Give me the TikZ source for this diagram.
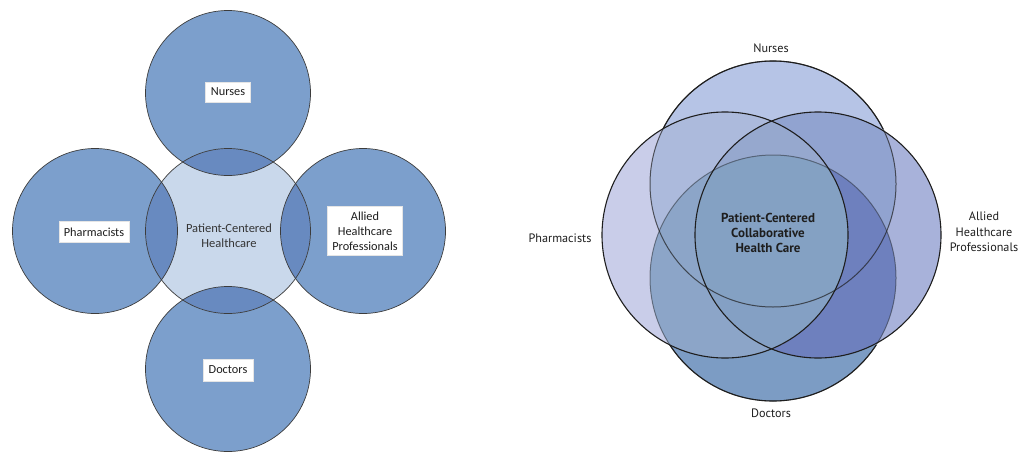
\documentclass[tikz,border=0pt]{standalone}
\usepackage{fontspec}
\newfontfamily\lfont{Carlito}
\newfontfamily\rfont{PT Sans}
\definecolor{outerL}{RGB}{124,159,204}
\definecolor{centerL}{RGB}{201,216,235}
\definecolor{overL}{RGB}{104,138,192}
\definecolor{lineL}{RGB}{60,60,60}
\definecolor{cN}{RGB}{182,196,230}
\definecolor{cP}{RGB}{201,205,233}
\definecolor{cA}{RGB}{168,178,218}
\definecolor{cNP}{RGB}{172,186,220}
\definecolor{cNA}{RGB}{145,163,208}
\definecolor{cNAP}{RGB}{150,168,206}
\definecolor{cD}{RGB}{124,156,196}
\definecolor{cDA}{RGB}{110,128,190}
\definecolor{cDP}{RGB}{140,165,200}
\definecolor{cDAP}{RGB}{132,160,196}
\definecolor{cAll}{RGB}{132,161,195}
\definecolor{lineR}{RGB}{30,30,30}
\definecolor{txt}{RGB}{30,30,30}
\tikzset{
  lbox/.style={fill=white, draw=white!90!black, line width=0.3pt, text=txt, font=\lfont\fontsize{12.3}{15}\selectfont, align=center, inner sep=0pt},
  ltext/.style={text=txt!90!white, font=\lfont\fontsize{12.5}{15}\selectfont, align=center, inner sep=0pt},
  rtext/.style={text=txt, font=\rfont\fontsize{12.2}{15.5}\selectfont, align=center, inner sep=0pt},
  rbold/.style={text=txt, font=\rfont\bfseries\fontsize{13}{15}\selectfont, align=center, inner sep=0pt},
  lstroke/.style={draw=lineL, line width=0.7pt},
  rstroke/.style={draw=lineR, line width=1.1pt},
  rfaint/.style={draw=lineR, draw opacity=0.45, line width=1pt},
  rmid/.style={draw=lineR, draw opacity=0.7, line width=1pt},
}
\def\rr{123pt}
\begin{document}
\begin{tikzpicture}[x=1pt,y=-1pt]
\useasboundingbox (0,0) rectangle (1032,452);
% ---------- left diagram ----------
\coordinate (LN) at (228,93);
\coordinate (LP) at (95,231);
\coordinate (LA) at (363,231);
\coordinate (LD) at (228,369);
\coordinate (LC) at (228,231);
\foreach \c in {LN,LP,LA,LD} \fill[outerL] (\c) circle (82.5pt);
\fill[centerL] (LC) circle (82.5pt);
\begin{scope}
  \clip (LC) circle (82.5pt);
  \foreach \c in {LN,LP,LA,LD} \fill[overL] (\c) circle (82.5pt);
\end{scope}
\foreach \c in {LN,LP,LA,LD,LC} \draw[lstroke] (\c) circle (82.5pt);
\node[lbox, minimum width=45pt, minimum height=20pt] (lnurses) at (228,92) {Nurses};
\node[lbox, minimum width=70pt, minimum height=21pt] (lpharm) at (94,232) {Pharmacists};
\node[lbox, minimum width=75pt, minimum height=49pt] (lallied) at (365,231) {Allied\\Healthcare\\Professionals};
\node[lbox, minimum width=50pt, minimum height=22pt] (ldoctors) at (228,370) {Doctors};
\node[ltext] (lcenter) at (229,236) {Patient-Centered\\Healthcare};
% ---------- right diagram ----------
\coordinate (RN) at (773,184);
\coordinate (RP) at (725,235);
\coordinate (RA) at (818,235);
\coordinate (RD) at (773,278);
% region fills
\fill[cN] (RN) circle (\rr);
\fill[cA] (RA) circle (\rr);
\fill[cP] (RP) circle (\rr);
\begin{scope}
  \clip (RN) circle (\rr);
  \fill[cNP] (RP) circle (\rr);
  \fill[cNA] (RA) circle (\rr);
  \clip (RA) circle (\rr);
  \fill[cNAP] (RP) circle (\rr);
\end{scope}
\fill[cD] (RD) circle (\rr);
\begin{scope}
  \clip (RD) circle (\rr);
  \fill[cDA] (RA) circle (\rr);
  \fill[cDP] (RP) circle (\rr);
  \clip (RA) circle (\rr);
  \fill[cDAP] (RP) circle (\rr);
  \clip (RN) circle (\rr);
  \fill[cAll] (RP) circle (\rr);
\end{scope}
% outlines
\draw[rfaint] (RD) circle (\rr);
\begin{scope}
  \clip (0,345) rectangle (1032,452);
  \draw[rstroke] (RD) circle (\rr);
\end{scope}
\draw[rmid] (RN) circle (\rr);
\begin{scope}
  \clip (0,0) rectangle (1032,128.6);
  \draw[rstroke] (RN) circle (\rr);
\end{scope}
\draw[rstroke] (RA) circle (\rr);
\draw[rstroke] (RP) circle (\rr);
% labels
\node[rtext] (rnurses) at (771,48) {Nurses};
\node[rtext] (rpharm) at (560,238) {Pharmacists};
\node[rtext] (rallied) at (984,232) {Allied\\Healthcare\\Professionals};
\node[rtext] (rdoctors) at (771,413) {Doctors};
\node[rbold] (rcenter) at (768,233) {Patient-Centered\\Collaborative\\Health Care};
\end{tikzpicture}
\end{document}
